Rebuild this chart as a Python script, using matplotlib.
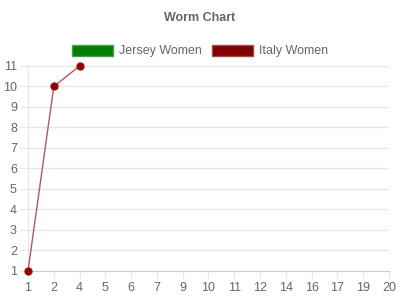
import matplotlib
matplotlib.use("Agg")
import matplotlib.pyplot as plt
from matplotlib.patches import Patch

overs = [1, 2, 4, 5, 6, 7, 9, 10, 11, 12, 14, 16, 17, 19, 20]
jersey_women = []
italy_women = [1, 10, 11]
y_ticks = list(range(1, 12))

plt.rcParams['font.family'] = ['Liberation Sans', 'DejaVu Sans']

fig = plt.figure(figsize=(4, 3), dpi=100)
ax = fig.add_axes([0.07, 0.0967, 0.9025, 0.6833])

txt = '#666666'
grid = '#e6e6e6'

x_idx = list(range(len(overs)))
ax.plot(x_idx[:len(jersey_women)], jersey_women, color='#008000', lw=1)
ax.plot(x_idx[:len(italy_women)], italy_women, color='#b05a5a', lw=1,
        marker='o', markersize=5, markerfacecolor='#8b0000',
        markeredgecolor='#a01010', zorder=3, clip_on=False)

ax.set_xlim(0, len(overs) - 1)
ax.set_ylim(1, 11)
ax.set_xticks(x_idx)
ax.set_xticklabels([str(o) for o in overs])
ax.set_yticks(y_ticks)
ax.yaxis.grid(True, color=grid, lw=1)
ax.set_axisbelow(True)
for s in ['top', 'right']:
    ax.spines[s].set_visible(False)
ax.spines['left'].set_color(grid)
ax.spines['bottom'].set_color('#cccccc')
ax.tick_params(axis='y', length=6, color=grid, labelcolor=txt, labelsize=9, pad=2)
ax.tick_params(axis='x', length=5, color=grid, labelcolor=txt, labelsize=9, pad=3)

fig.text(0.5, 0.94, 'Worm Chart', ha='center', va='center', fontsize=9,
         fontweight='bold', color=txt)

handles = [Patch(facecolor='#008000', edgecolor='#4aa04a', lw=1, label='Jersey Women'),
           Patch(facecolor='#800000', edgecolor='#a04a4a', lw=1, label='Italy Women')]
leg = fig.legend(handles=handles, loc='center', bbox_to_anchor=(0.5, 0.83), ncol=2,
                 frameon=False, fontsize=9, handlelength=3.3, handleheight=1.0,
                 handletextpad=0.45, columnspacing=0.8, labelcolor=txt)

fig.savefig('out.png', dpi=100)
